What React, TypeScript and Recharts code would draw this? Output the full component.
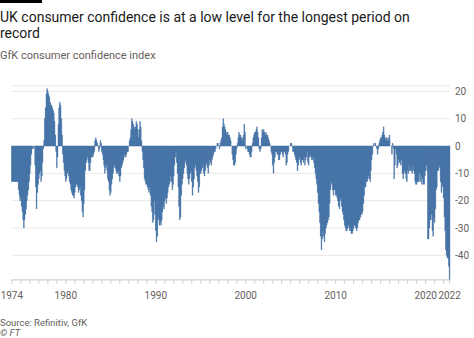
import React from "react";
import { BarChart, Bar, XAxis, YAxis, CartesianGrid } from "recharts";

// GfK consumer confidence index, monthly values
const vals1974to1979 = [
  -13, -13, -13, -13, -13, -13, -13, -13, -13, -16, -18, -20,
  -19, -22, -24, -27, -30, -27, -25, -23, -20, -18, -16, -13,
  -10, -7, -3, -1, 0, -1, 0, -7, -15, -23, -17, -14,
  -12, -10, -9, -13, -11, -6, -1, 2, 10, 14, 19, 21,
  20, 19, 18, 16, 15, 15, 14, 13, 12, 9, 4, -2,
  -8, -4, 8, 14, 16, 15, 10, 4, -3, -6, -9, -11,
];

const vals1980s = [
  -13, -12, -10, -9, -11, -13, -14, -16, -17, -18, -18, -19,
  -17, -15, -14, -14, -15, -17, -16, -15, -18, -20, -24, -26,
  -21, -16, -9, -6, -5, -4, -6, -9, -9, -6, -4, -4,
  -4, -3, -2, 2, 3, 2, 1, 0, -2, -1, 2, 1,
  -2, -3, -5, -7, -10, -8, -7, -9, -12, -13, -16, -18,
  -17, -14, -12, -10, -8, -7, -8, -9, -10, -10, -9, -11,
  -13, -11, -8, -7, -6, -5, -3, -4, -4, -3, -2, -2,
  0, 2, 3, 6, 10, 9, 8, 7, 6, 7, 9, 8,
  6, 3, 6, 9, 7, 2, -2, -5, -8, -12, -13, -14,
  -14, -15, -16, -17, -15, -18, -22, -24, -28, -27, -20, -25,
];

const vals1990s = [
  -31, -35, -33, -26, -27, -29, -28, -29, -27, -24, -22, -23,
  -20, -19, -21, -19, -17, -15, -14, -13, -11, -13, -16, -14,
  -11, -7, -4, -2, -6, -10, -15, -22, -27, -26, -18, -14,
  -12, -10, -8, -6, -5, -7, -10, -12, -14, -12, -10, -9,
  -13, -18, -15, -12, -8, -7, -9, -11, -13, -17, -15, -10,
  -10, -9, -8, -7, -10, -11, -9, -7, -6, -8, -10, -7,
  -5, -6, -7, -5, -4, -3, -2, -2, -1, 0, 1, 1,
  0, -1, 1, 2, 3, 7, 10, 8, 7, 6, 5, 4,
  5, 4, 4, 3, 2, 0, -3, -5, -7, -7, -6, -3,
  -1, 1, 3, 5, 4, 4, 3, 3, 2, 4, 8, 5,
];

const vals2000s = [
  -1, 0, -1, -2, -2, -3, -4, -4, -2, 1, 3, 4,
  5, 5, 6, 7, 5, 3, -1, -2, -1, 3, 6, 5,
  6, 5, 4, 5, 4, 4, 3, 2, 1, 0, -2, -3,
  -7, -10, -6, -4, -2, -2, -3, -3, -5, -5, -3, -2,
  -2, -3, -4, -2, -2, -3, -7, -6, -3, -2, 0, 0,
  1, 1, 0, -2, -2, -3, -4, -5, -6, -9, -7, -5,
  -4, -6, -7, -5, -5, -6, -4, -7, -5, -4, -2, -6,
  -7, -4, -3, -4, -5, -5, -4, -6, -8, -10, -12, -14,
  -17, -21, -24, -28, -33, -38, -34, -31, -33, -35, -32, -30,
  -29, -28, -27, -26, -21, -16, -13, -14, -16, -18, -16, -16,
];

const vals2010s = [
  -18, -18, -19, -20, -22, -23, -20, -19, -22, -24, -25, -27,
  -29, -30, -31, -31, -30, -29, -30, -31, -31, -32, -32, -31,
  -30, -29, -29, -30, -31, -30, -28, -27, -27, -26, -25, -25,
  -24, -21, -18, -15, -15, -13, -13, -12, -11, -12, -13, -9,
  -5, -3, 0, 1, 0, 1, 0, -1, -3, -1, 1, 2,
  3, 3, 4, 5, 7, 4, 3, 2, 3, 2, 3, 2,
  4, 0, 0, -3, 1, -1, -12, -7, -1, -3, -8, -7,
  -5, -6, -6, -7, -5, -10, -12, -10, -9, -10, -12, -13,
  -9, -10, -7, -9, -9, -9, -10, -7, -9, -10, -13, -14,
  -14, -13, -13, -13, -10, -13, -11, -14, -12, -14, -14, -11,
];

const vals2020to2022 = [
  -9, -7, -9, -34, -34, -30, -27, -27, -25, -31, -33, -26,
  -28, -23, -16, -15, -9, -9, -7, -8, -13, -17, -14, -15,
  -19, -26, -31, -38, -40, -41, -41, -44, -49,
];

const blocks = [
  { from: 1974, values: vals1974to1979 },
  { from: 1980, values: vals1980s },
  { from: 1990, values: vals1990s },
  { from: 2000, values: vals2000s },
  { from: 2010, values: vals2010s },
  { from: 2020, values: vals2020to2022 },
];

const labelledYears = ["1974", "1980", "1990", "2000", "2010", "2020"];
const yTicks = [-40, -30, -20, -10, 0, 10, 20];

const data = blocks.flatMap(({ from, values }) =>
  values.map((value, i) => ({
    month: `${from + Math.floor(i / 12)}-${String((i % 12) + 1).padStart(2, "0")}`,
    value,
  }))
);

const lastMonth = data[data.length - 1].month;
const xTicks = [...data.filter((d) => d.month.endsWith("-01")).map((d) => d.month), lastMonth];

const formatMonth = (m: string) => {
  if (m === lastMonth) return "2022";
  const year = m.slice(0, 4);
  return m.endsWith("-01") && labelledYears.includes(year) ? year : "";
};

const FONT = "Roboto, 'Noto Sans', sans-serif";
const GREY = "#66605c";
const BLUE = "#3d6da2";

export default function App() {
  return (
    <div
      style={{
        position: "absolute",
        left: 0,
        top: 0,
        width: 474,
        height: 338,
        background: "#fff",
        fontFamily: FONT,
        overflow: "hidden",
      }}
    >
      <div style={{ position: "absolute", left: 0, top: 0, width: 42, height: 3, background: "#000" }} />
      <div
        style={{
          position: "absolute",
          left: 0,
          top: 9,
          fontSize: 14,
          lineHeight: "16px",
          color: "#1a1a1a",
          whiteSpace: "nowrap",
        }}
      >
        UK consumer confidence is at a low level for the longest period on
        <br />
        record
      </div>
      <div
        style={{
          position: "absolute",
          left: 0,
          top: 50,
          fontSize: 11,
          lineHeight: "11px",
          color: GREY,
        }}
      >
        GfK consumer confidence index
      </div>

      <div style={{ position: "absolute", left: 0, top: 0 }}>
        <BarChart
          width={474}
          height={338}
          data={data}
          margin={{ top: 85.9, right: 4, bottom: 28.1, left: 11.5 }}
          barCategoryGap={0}
          barGap={0}
        >
          <CartesianGrid horizontal vertical={false} stroke="#e8e8e8" />
          <XAxis
            dataKey="month"
            ticks={xTicks}
            interval={0}
            height={30}
            tickFormatter={formatMonth}
            tickSize={4}
            tickMargin={8}
            axisLine={{ stroke: "#cfcfcf" }}
            tickLine={{ stroke: "#cfcfcf" }}
            tick={{ fill: GREY, fontSize: 10, fontFamily: FONT }}
          />
          <YAxis
            orientation="right"
            width={20}
            domain={[-49, 22]}
            allowDataOverflow
            ticks={yTicks}
            axisLine={false}
            tickLine={false}
            tickSize={0}
            tickMargin={5}
            tick={{ fill: GREY, fontSize: 10, fontFamily: FONT, textAnchor: "start" }}
          />
          <Bar
            dataKey="value"
            fill={BLUE}
            stroke={BLUE}
            strokeWidth={0.4}
            isAnimationActive={false}
          />
        </BarChart>
      </div>

      <div
        style={{
          position: "absolute",
          left: 0,
          top: 317.5,
          fontSize: 9.5,
          lineHeight: "9.5px",
          color: GREY,
        }}
      >
        Source: Refinitiv, GfK
      </div>
      <div
        style={{
          position: "absolute",
          left: 0,
          top: 328,
          fontSize: 9.5,
          lineHeight: "9.5px",
          color: GREY,
          fontStyle: "italic",
        }}
      >
        © FT
      </div>
    </div>
  );
}
